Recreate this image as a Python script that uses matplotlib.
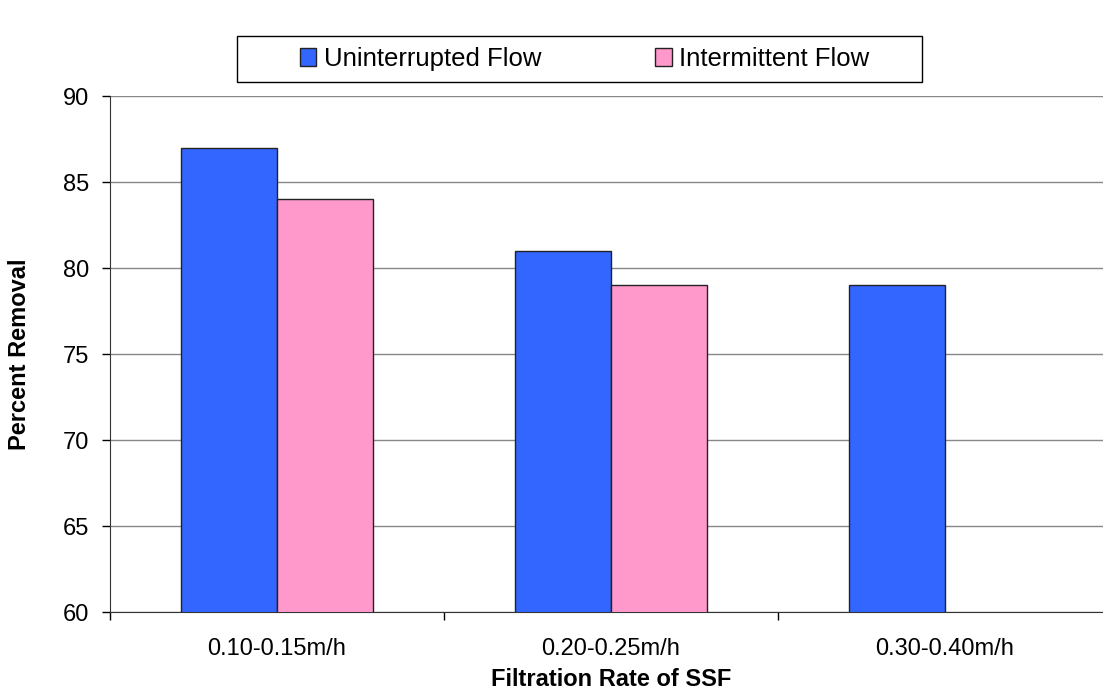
import matplotlib.pyplot as plt
from matplotlib.patches import Rectangle
import numpy as np

plt.rcParams['font.family'] = ['Liberation Sans', 'DejaVu Sans']

categories = ['0.10-0.15m/h', '0.20-0.25m/h', '0.30-0.40m/h']
uninterrupted = [87, 81, 79]
intermittent = [84, 79, np.nan]

fig = plt.figure(figsize=(11.03, 6.91), dpi=100)
ax = fig.add_axes([0.0997, 0.1143, 0.908, 0.7467])

x = np.arange(len(categories))
w = 0.287
ax.bar(x - w / 2, uninterrupted, w, color='#3366FF', edgecolor='#222222', linewidth=1,
       label='Uninterrupted Flow', zorder=3)
ax.bar(x + w / 2, intermittent, w, color='#FF99CC', edgecolor='#222222', linewidth=1,
       label='Intermittent Flow', zorder=3)

ax.set_ylim(60, 90)
ax.set_xlim(-0.5, 2.5)
ax.set_yticks(range(60, 91, 5))
ax.yaxis.grid(True, color='#888888', linewidth=1, zorder=0)

# category labels sit between the boundary ticks
ax.set_xticks(x)
ax.set_xticklabels(categories)
ax.tick_params(axis='x', which='major', length=0, pad=19, labelsize=17)
ax.set_xticks(np.arange(-0.5, 3.0, 1.0), minor=True)
ax.tick_params(axis='x', which='minor', length=6, width=1, direction='out')
ax.tick_params(axis='y', length=6, width=1, direction='out', labelsize=17, pad=9)

for s in ['top', 'right']:
    ax.spines[s].set_visible(False)
ax.spines['left'].set_color('#333333')
ax.spines['bottom'].set_color('#333333')

ax.set_xlabel('Filtration Rate of SSF', fontsize=17, fontweight='bold')
ax.xaxis.set_label_coords(0.5, -0.108)
ax.set_ylabel('Percent Removal', fontsize=17, fontweight='bold')
ax.yaxis.set_label_coords(-0.079, 0.5)

# legend frame drawn separately so its padding matches the original
fig.patches.append(Rectangle((237 / 1103, 1 - 82 / 691), 685 / 1103, 46 / 691,
                             transform=fig.transFigure, fill=False,
                             edgecolor='black', linewidth=1))
fig.legend(loc='center', bbox_to_anchor=(0.530, 0.9146), ncol=2, fontsize=18.5,
           frameon=False, handlelength=0.66, handleheight=0.66,
           columnspacing=4.4, borderpad=0, handletextpad=0.3)

fig.savefig('out.png', dpi=100)
